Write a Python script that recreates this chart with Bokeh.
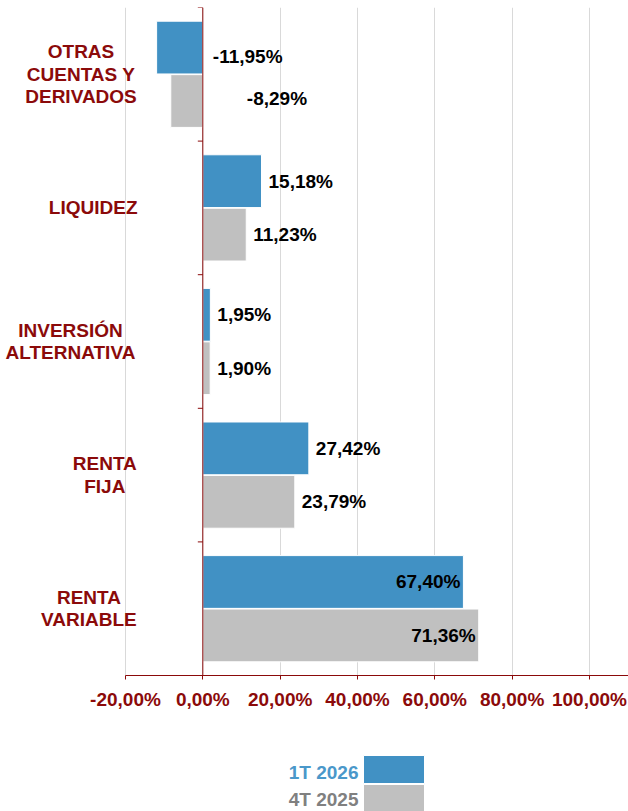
from bokeh.plotting import figure
from bokeh.models import ColumnDataSource, Range1d, FixedTicker, LabelSet, Span
from bokeh.layouts import column
from bokeh.embed import file_html
from bokeh.resources import INLINE
from bokeh.core.properties import value

# ---------------- data ----------------
categories = ["OTRAS\nCUENTAS Y\nDERIVADOS", "LIQUIDEZ", "INVERSIÓN\nALTERNATIVA",
              "RENTA\nFIJA", "RENTA\nVARIABLE"]
series_names = ["1T 2026", "4T 2025"]
values_1t2026 = [-11.95, 15.18, 1.95, 27.42, 67.40]
values_4t2025 = [-8.29, 11.23, 1.90, 23.79, 71.36]
x_ticks = [-20, 0, 20, 40, 60, 80, 100]
x_tick_labels = ["-20,00%", "0,00%", "20,00%", "40,00%", "60,00%", "80,00%", "100,00%"]

# ---------------- style / layout ----------------
BLUE = "#4191C4"
GRAY = "#C0C0C0"
BLUE_TXT = "#4A98CA"
GRAY_TXT = "#808080"
RED = "#8B0A0A"
FONT = "Liberation Sans"
GRID = "#D9D9D9"
FS = "19px"

W_FIG = 628
AXIS_LEFT_PX = 125          # pixel where -20 % sits
X_MIN, X_MAX = -20, 110.1
PX_PER_UNIT = (W_FIG - AXIS_LEFT_PX) / (X_MAX - X_MIN)
X_LEFT = X_MIN - AXIS_LEFT_PX / PX_PER_UNIT   # frame spans the whole width

n = len(categories)
centers = [n - 0.5 - i for i in range(n)]
OFF = 0.2
BAR_H = 0.395
TOP_PX, BOTTOM_PX, H1 = 7, 675, 730
PX_PER_CAT = (BOTTOM_PX - TOP_PX) / n

p = figure(width=W_FIG, height=H1, x_range=Range1d(X_LEFT, X_MAX), y_range=Range1d(0, n),
           output_backend="svg", toolbar_location=None, y_axis_location=None,
           min_border_left=0, min_border_right=0, min_border_top=TOP_PX,
           min_border_bottom=H1 - BOTTOM_PX)
p.outline_line_color = None

# bars
src = ColumnDataSource(dict(
    y1=[c + OFF for c in centers], y2=[c - OFF for c in centers],
    v1=values_1t2026, v2=values_4t2025))
p.hbar(y="y1", left=0, right="v1", height=BAR_H, fill_color=BLUE,
       line_color="white", line_width=1, source=src)
p.hbar(y="y2", left=0, right="v2", height=BAR_H, fill_color=GRAY,
       line_color="white", line_width=1, source=src)

# value labels
def fmt(v):
    return f"{v:.2f}".replace(".", ",") + "%"

L = dict(x=[], y=[], t=[], xo=[], yo=[])
R = dict(x=[], y=[], t=[], xo=[], yo=[])
neg_offsets = {0: (10, 9), 1: (44, -3)}  # manual placement of the negative labels
for i in range(n):
    for s, (vals, dy) in enumerate([(values_1t2026, OFF), (values_4t2025, -OFF)]):
        v = vals[i]
        if i == n - 1:
            d, x, xo, yo = R, v, -3, 0
        elif v < 0:
            d, x = L, 0
            xo, yo = neg_offsets[s]
        else:
            d, x, xo, yo = L, v, 7, 0
        d["x"].append(x); d["y"].append(centers[i] + dy); d["t"].append(fmt(v))
        d["xo"].append(xo); d["yo"].append(yo)

for d, align in [(L, "left"), (R, "right")]:
    p.text(x="x", y="y", text="t", x_offset="xo", y_offset="yo", source=ColumnDataSource(d),
           text_align=align, text_baseline="middle", text_font=value(FONT),
           text_font_style="bold", text_font_size=FS, text_color="black")

# x axis
p.xaxis.ticker = FixedTicker(ticks=x_ticks)
p.xaxis.bounds = (X_MIN, X_MAX)
p.xaxis.major_label_overrides = {t: l for t, l in zip(x_ticks, x_tick_labels)}
p.xaxis.axis_line_color = RED
p.xaxis.major_tick_line_color = RED
p.xaxis.major_tick_out = 4
p.xaxis.major_tick_in = 0
p.xaxis.minor_tick_line_color = None
p.xaxis.major_label_text_color = RED
p.xaxis.major_label_text_font = FONT
p.xaxis.major_label_text_font_style = "bold"
p.xaxis.major_label_text_font_size = FS
p.xaxis.major_label_standoff = 9

p.xgrid.ticker = FixedTicker(ticks=x_ticks)
p.xgrid.grid_line_color = GRID
p.ygrid.grid_line_color = None

# vertical axis line at zero with ticks at category boundaries
p.add_layout(Span(location=0, dimension="height", line_color=RED, line_width=1))
bounds = list(range(n + 1))
tick_len = 5 / PX_PER_UNIT
p.segment(x0=[-tick_len] * len(bounds), x1=[0] * len(bounds), y0=bounds, y1=bounds,
          line_color=RED, line_width=1)

# category labels: right-aligned block, lines centred
WID = {'A': .722, 'B': .722, 'C': .722, 'D': .722, 'E': .667, 'F': .611, 'G': .778, 'H': .722,
       'I': .278, 'J': .556, 'K': .722, 'L': .611, 'M': .833, 'N': .722, 'O': .778, 'Ó': .778,
       'P': .667, 'Q': .778, 'R': .722, 'S': .667, 'T': .611, 'U': .722, 'V': .667, 'W': .944,
       'X': .667, 'Y': .667, 'Z': .611, ' ': .278}
CAT_FS = 19
LINE_PX = 22.5
RIGHT_EDGE = 137

def line_w(s):
    return sum(WID.get(ch, .6) for ch in s) * CAT_FS

cx, cy, ct = [], [], []
for c, yc in zip(categories, centers):
    lines = c.split("\n")
    bw = max(line_w(l) for l in lines)
    k = len(lines)
    for j, l in enumerate(lines):
        cx.append(X_LEFT + (RIGHT_EDGE - bw / 2) / PX_PER_UNIT)
        cy.append(yc + ((k - 1) / 2 - j) * LINE_PX / PX_PER_CAT)
        ct.append(l)
p.add_layout(LabelSet(x="x", y="y", text="t", source=ColumnDataSource(dict(x=cx, y=cy, t=ct)),
                      text_align="center", text_baseline="middle", text_font=value(FONT),
                      text_font_style="bold", text_font_size=f"{CAT_FS}px", text_color=RED))

# ---------------- legend ----------------
H2 = 811 - H1
lg = figure(width=W_FIG, height=H2, x_range=Range1d(0, W_FIG), y_range=Range1d(H2, 0),
            output_backend="svg", toolbar_location=None, min_border=0,
            x_axis_location=None, y_axis_location=None)
lg.outline_line_color = None
lg.grid.visible = False
lg.quad(left=[363, 363], right=[424, 424], top=[25, 54], bottom=[53, 81],
        fill_color=[BLUE, GRAY], line_color="white", line_width=1)
lg.text(x=[358, 358], y=[42, 68.5], text=series_names, text_align="right",
        text_baseline="middle", text_color=[BLUE_TXT, GRAY_TXT], text_font=value(FONT),
        text_font_style="bold", text_font_size=FS)

layout = column(p, lg, spacing=0)
open("out.html", "w").write(file_html(layout, INLINE))
